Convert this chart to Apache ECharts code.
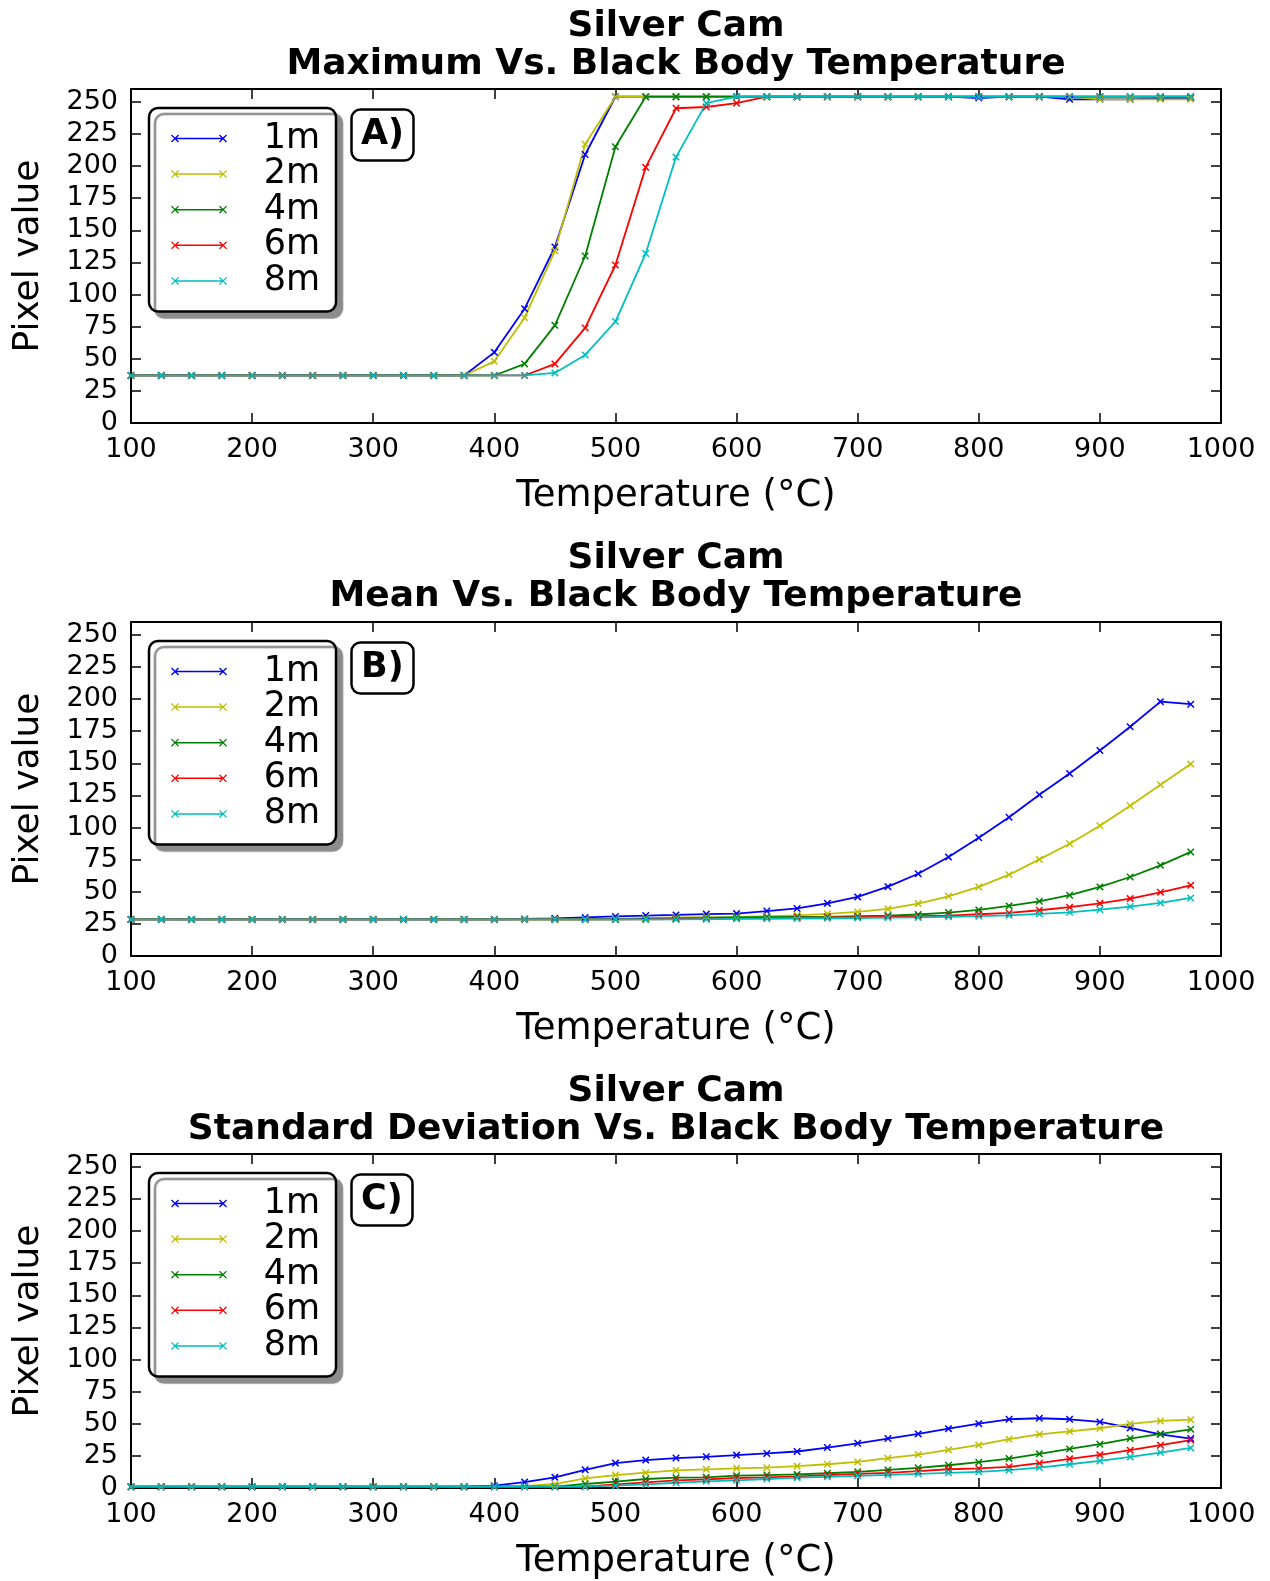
<!DOCTYPE html>
<html>
<head>
<meta charset="utf-8">
<script src="https://cdn.jsdelivr.net/npm/echarts@6/dist/echarts.min.js"></script>
<style>
  html, body { margin: 0; padding: 0; background: #fff; }
  #mountNode { width: 1270px; height: 1581px; }
</style>
</head>
<body>
<div id="mountNode"></div>
<script>
const temps = [100, 125, 150, 175, 200, 225, 250, 275, 300, 325, 350, 375, 400, 425, 450, 475, 500, 525,
  550, 575, 600, 625, 650, 675, 700, 725, 750, 775, 800, 825, 850, 875, 900, 925, 950, 975];
const distances = ['1m', '2m', '4m', '6m', '8m'];
const colors = ['#0000ff', '#bfbf00', '#008000', '#ff0000', '#00bfbf'];
const yTicks = [0, 25, 50, 75, 100, 125, 150, 175, 200, 225, 250];

// A) maximum
const max1m = [37, 37, 37, 37, 37, 37, 37, 37, 37, 37, 37, 37, 55, 89, 137, 209, 254, 254,
  254, 254, 254, 254, 254, 254, 254, 254, 254, 254, 253, 254, 254, 252, 252, 252, 253, 253];
const max2m = [37, 37, 37, 37, 37, 37, 37, 37, 37, 37, 37, 37, 48, 82, 134, 217, 254, 254,
  254, 254, 254, 254, 254, 254, 254, 254, 254, 254, 254, 254, 254, 254, 252, 252, 252, 252];
const max4m = [37, 37, 37, 37, 37, 37, 37, 37, 37, 37, 37, 37, 37, 46, 76, 130, 215, 254,
  254, 254, 254, 254, 254, 254, 254, 254, 254, 254, 254, 254, 254, 254, 254, 254, 254, 254];
const max6m = [37, 37, 37, 37, 37, 37, 37, 37, 37, 37, 37, 37, 37, 37, 46, 74, 123, 199,
  245, 246, 249, 254, 254, 254, 254, 254, 254, 254, 254, 254, 254, 254, 254, 254, 254, 254];
const max8m = [37, 37, 37, 37, 37, 37, 37, 37, 37, 37, 37, 37, 37, 37, 39, 53, 79, 132,
  207, 249, 254, 254, 254, 254, 254, 254, 254, 254, 254, 254, 254, 254, 254, 254, 254, 254];

// B) mean
const mean1m = [28.5, 28.5, 28.5, 28.5, 28.5, 28.5, 28.5, 28.5, 28.5, 28.5, 28.5, 28.5, 28.5, 28.8, 29.3, 30, 30.8, 31.5,
  32, 32.6, 33, 35, 37, 41, 46, 54, 64, 77, 92, 108, 125.5, 142, 160, 178.5, 198, 196];
const mean2m = [28.5, 28.5, 28.5, 28.5, 28.5, 28.5, 28.5, 28.5, 28.5, 28.5, 28.5, 28.5, 28.5, 28.5, 28.5, 28.5, 29, 29.5,
  30, 30.3, 30.5, 31, 31.7, 32.8, 34.3, 36.7, 40.8, 46.5, 53.8, 63.3, 75.2, 87.4, 101.4, 117, 133.3, 149.4];
const mean4m = [28.5, 28.5, 28.5, 28.5, 28.5, 28.5, 28.5, 28.5, 28.5, 28.5, 28.5, 28.5, 28.5, 28.5, 28.5, 28.5, 28.5, 29,
  29.3, 29.6, 30, 30.3, 30.5, 30.5, 31, 31.5, 32.3, 33.8, 35.9, 39, 42.6, 47.3, 53.8, 61.5, 70.6, 81];
const mean6m = [28.5, 28.5, 28.5, 28.5, 28.5, 28.5, 28.5, 28.5, 28.5, 28.5, 28.5, 28.5, 28.5, 28.5, 28.5, 28.5, 28.5, 28.5,
  28.8, 29, 29.3, 29.5, 29.8, 30, 30.3, 30.7, 31, 31.5, 32.5, 33.5, 35.6, 38, 41, 44.7, 49.6, 55];
const mean8m = [28.5, 28.5, 28.5, 28.5, 28.5, 28.5, 28.5, 28.5, 28.5, 28.5, 28.5, 28.5, 28.5, 28.5, 28.5, 28.5, 28.5, 28.5,
  28.5, 28.7, 28.9, 29, 29.2, 29.4, 29.6, 29.8, 30, 30.5, 31, 31.7, 32.8, 34, 36.1, 38.5, 41.3, 45.2];

// C) standard deviation
const std1m = [1, 1, 1, 1, 1, 1, 1, 1, 1, 1, 1, 1, 1.8, 4.6, 8.3, 14.2, 19.4, 21.7,
  23.3, 24.3, 25.6, 26.9, 28.4, 31.5, 34.8, 38.5, 42.1, 46.2, 50.1, 53.5, 54.3, 53.5, 51.4, 46.8, 41.8, 38.5];
const std2m = [1, 1, 1, 1, 1, 1, 1, 1, 1, 1, 1, 1, 1, 1.5, 3.1, 7.5, 10.1, 11.9,
  13.7, 14.5, 15.3, 15.8, 17, 18.5, 20.3, 23.2, 26, 29.7, 33.5, 38, 41.8, 44.1, 46.5, 49.9, 52.2, 53.2];
const std4m = [1, 1, 1, 1, 1, 1, 1, 1, 1, 1, 1, 1, 1, 1, 1, 3.1, 4.9, 7,
  8, 8.3, 9.6, 10.1, 10.6, 11.5, 12.6, 14.1, 15.7, 17.7, 20.1, 22.9, 26.6, 30.4, 34.1, 38.5, 42.1, 45.7];
const std6m = [1, 1, 1, 1, 1, 1, 1, 1, 1, 1, 1, 1, 1, 1, 1, 1, 2.8, 4.4,
  6, 6.7, 7.8, 8.3, 9, 10, 11, 11.8, 13.1, 14.6, 15.2, 16.5, 19.3, 22.7, 25.8, 29.4, 33.3, 37.2];
const std8m = [1, 1, 1, 1, 1, 1, 1, 1, 1, 1, 1, 1, 1, 1, 1, 1, 1.8, 2.8,
  4.1, 5.2, 6, 7, 8, 8.7, 9.5, 10.2, 11, 11.8, 12.6, 13.9, 15.9, 18.5, 21.1, 24.2, 27.6, 31.2];

const panels = [
  { label: 'A)', title: 'Silver Cam\nMaximum Vs. Black Body Temperature', data: [max1m, max2m, max4m, max6m, max8m] },
  { label: 'B)', title: 'Silver Cam\nMean Vs. Black Body Temperature', data: [mean1m, mean2m, mean4m, mean6m, mean8m] },
  { label: 'C)', title: 'Silver Cam\nStandard Deviation Vs. Black Body Temperature', data: [std1m, std2m, std4m, std6m, std8m] }
];

const FONT = 'DejaVu Sans';
const gridTops = [89, 622, 1154];
const gridHeights = [334, 334, 335];
const titleTops = [2, 534, 1067];
const crossMark = 'path://M0,1.4 L1.4,0 L5,3.6 L8.6,0 L10,1.4 L6.4,5 L10,8.6 L8.6,10 L5,6.4 L1.4,10 L0,8.6 L3.6,5 Z';
const legendIcon = 'path://M0,0.9 L0.9,0 L4,3.1 L7.1,0 L8,0.9 L4.9,4 L8,7.1 L7.1,8 L4,4.9 L0.9,8 L0,7.1 L3.1,4 Z' +
  'M48,0.9 L48.9,0 L52,3.1 L55.1,0 L56,0.9 L52.9,4 L56,7.1 L55.1,8 L52,4.9 L48.9,8 L48,7.1 L51.1,4 Z' +
  'M4,3.25 L52,3.25 L52,4.75 L4,4.75 Z';

const frameLine = { show: true, onZero: false, lineStyle: { color: '#000', width: 2 } };
const innerTick = { show: true, inside: true, length: 10, lineStyle: { color: '#000', width: 1.5 } };

const grid = [], xAxis = [], yAxis = [], series = [], title = [], legend = [];

panels.forEach((p, i) => {
  const top = gridTops[i];
  grid.push({ left: 131, right: 49, top: top, height: gridHeights[i] });

  xAxis.push({
    type: 'value', gridIndex: i, position: 'bottom', min: 100, max: 1000, interval: 100,
    axisLine: frameLine, axisTick: innerTick, splitLine: { show: false },
    axisLabel: { color: '#000', fontSize: 27, fontFamily: FONT, margin: 13, formatter: v => String(v) },
    name: 'Temperature (°C)', nameLocation: 'middle', nameGap: 55,
    nameTextStyle: { color: '#000', fontSize: 37, fontFamily: FONT }
  });
  xAxis.push({
    type: 'value', gridIndex: i, position: 'top', min: 100, max: 1000, interval: 100,
    axisLine: frameLine, axisTick: innerTick, splitLine: { show: false }, axisLabel: { show: false }
  });
  yAxis.push({
    type: 'value', gridIndex: i, position: 'left', min: 0, max: 260, interval: 25,
    axisLine: frameLine, axisTick: innerTick, splitLine: { show: false },
    axisLabel: {
      color: '#000', fontSize: 27, fontFamily: FONT, margin: 13,
      formatter: v => (yTicks.indexOf(v) >= 0 ? String(v) : '')
    },
    name: 'Pixel value', nameLocation: 'middle', nameGap: 84, nameRotate: 90,
    nameTextStyle: { color: '#000', fontSize: 36, fontFamily: FONT }
  });
  yAxis.push({
    type: 'value', gridIndex: i, position: 'right', min: 0, max: 260, interval: 25,
    axisLine: frameLine, axisTick: innerTick, splitLine: { show: false }, axisLabel: { show: false }
  });

  p.data.forEach((vals, k) => {
    series.push({
      name: distances[k], type: 'line', xAxisIndex: i * 2, yAxisIndex: i * 2,
      data: temps.map((t, j) => [t, vals[j]]),
      symbol: crossMark, symbolSize: 7.5, showSymbol: true,
      lineStyle: { color: colors[k], width: 1.8 },
      itemStyle: { color: colors[k] },
      emphasis: { disabled: true }
    });
  });

  title.push({
    text: p.title, left: 671, top: titleTops[i], textAlign: 'center',
    textStyle: { color: '#000', fontSize: 36, fontWeight: 'bold', fontFamily: FONT, lineHeight: 38.5 }
  });
  title.push({
    text: p.label, left: 351, top: top + 20, padding: [8, 10, 8, 10],
    borderColor: '#000', borderWidth: 2.5, borderRadius: 9, backgroundColor: '#fff',
    textStyle: { color: '#000', fontSize: 35, fontWeight: 'bold', fontFamily: FONT, lineHeight: 36 }
  });

  legend.push({
    data: distances.map(d => ({ name: d, icon: legendIcon })),
    orient: 'vertical', left: 149, top: top + 19,
    padding: [13, 16, 13, 22], itemGap: 0.6, itemWidth: 56, itemHeight: 8, itemTextGap: 5,
    backgroundColor: '#fff', borderColor: '#000', borderWidth: 2.5, borderRadius: 9,
    shadowColor: '#8c8c8c', shadowBlur: 1, shadowOffsetX: 6, shadowOffsetY: 6,
    selectedMode: false,
    itemStyle: { borderWidth: 0 },
    formatter: '{n|{name}}',
    textStyle: {
      color: '#000', fontSize: 35, fontFamily: FONT,
      rich: { n: { width: 88, align: 'right', fontSize: 35, lineHeight: 35.7, fontFamily: FONT, color: '#000' } }
    }
  });
});

const option = { animation: false, backgroundColor: '#fff', title, legend, grid, xAxis, yAxis, series };

var myChart = echarts.init(document.getElementById('mountNode'));
myChart.setOption(option);
</script>
</body>
</html>
